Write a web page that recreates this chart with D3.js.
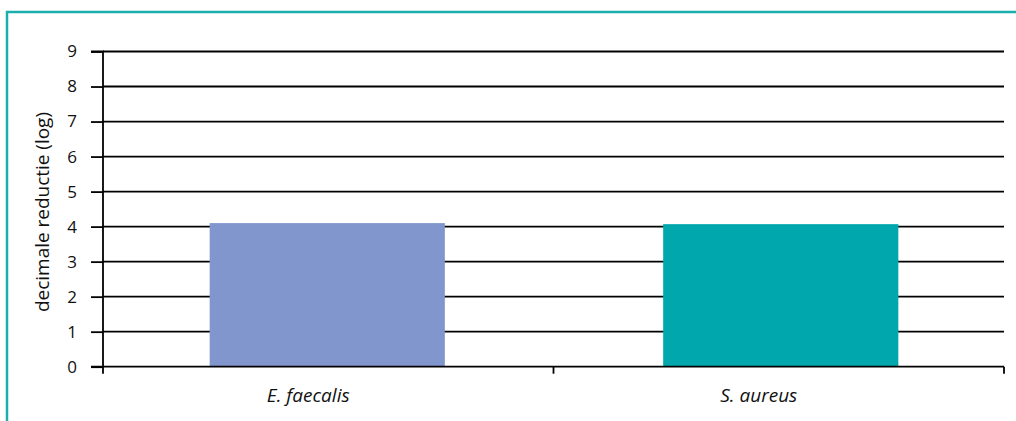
<!DOCTYPE html>
<html><head><meta charset="utf-8">
<script src="https://cdn.jsdelivr.net/npm/d3@7"></script>
<style>body{margin:0;background:#fff;} text{font-family:"Open Sans","Noto Sans",sans-serif;}</style>
</head><body><svg id="c" width="1016" height="421"></svg>
<script>
const categories = ["E. faecalis", "S. aureus"];
const values = [4.1, 4.07];
const colors = ["#8096cc", "#00a8ad"];
const yTicks = [0,1,2,3,4,5,6,7,8,9];
const yTitle = "decimale reductie (log)";

(function(){
const svg = d3.select("#c");
const pLeft = 103, pRight = 1004, pTop = 51.5, pBottom = 366.7;
const y = d3.scaleLinear().domain([0, 9]).range([pBottom, pTop]);
const x = d3.scaleBand().domain(categories).range([pLeft, pRight]).padding(0);

// frame
svg.append("path").attr("d", "M7,421 V12 H1016").attr("fill", "none")
  .attr("stroke", "#1aafad").attr("stroke-width", 2.5);

// gridlines
svg.append("g").selectAll("line").data(yTicks.filter(d => d > 0)).join("line")
  .attr("x1", pLeft).attr("x2", pRight).attr("y1", d => y(d)).attr("y2", d => y(d))
  .attr("stroke", "#000").attr("stroke-width", 1.8);

// bars
const bw = x.bandwidth() * 0.522;
svg.append("g").selectAll("rect").data(values).join("rect")
  .attr("x", (d, i) => x(categories[i]) + x.bandwidth() / 2 - bw / 2 + (i === 0 ? -1 : 2))
  .attr("width", bw)
  .attr("y", d => y(d)).attr("height", d => y(0) - y(d))
  .attr("fill", (d, i) => colors[i]);

// y axis
const yAxis = d3.axisLeft(y).tickValues(yTicks).tickSize(12).tickPadding(14).tickFormat(d3.format("d"));
const ga = svg.append("g").attr("transform", `translate(${pLeft},0)`).call(yAxis);
ga.select(".domain").attr("stroke", "#000").attr("stroke-width", 1.8).attr("d", `M-12,${pBottom}H0V${pTop}H-12`);
ga.selectAll(".tick line").attr("stroke", "#000").attr("stroke-width", 1.8);
ga.selectAll(".tick text").attr("font-size", 17).attr("fill", "#111").attr("font-family", "'Open Sans','Noto Sans',sans-serif");

// x axis
const gx = svg.append("g").attr("transform", `translate(0,${pBottom})`);
gx.append("line").attr("x1", pLeft).attr("x2", pRight).attr("y1", 0).attr("y2", 0).attr("stroke", "#000").attr("stroke-width", 1.8);
const bounds = [pLeft, x(categories[1]), pRight];
gx.selectAll("line.t").data(bounds).join("line").attr("class", "t")
  .attr("x1", d => d).attr("x2", d => d).attr("y1", 0).attr("y2", 7)
  .attr("stroke", "#000").attr("stroke-width", 1.8);
gx.selectAll("text").data(categories).join("text")
  .attr("x", d => x(d) + x.bandwidth() / 2 - 20).attr("y", 35)
  .attr("text-anchor", "middle").attr("font-size", 19).attr("font-style", "italic").attr("fill", "#111")
  .text(d => d);

// y title
svg.append("text").attr("transform", `translate(49,212) rotate(-90)`)
  .attr("text-anchor", "middle").attr("font-size", 19).attr("fill", "#111")
  .attr("textLength", 200).attr("lengthAdjust", "spacing").text(yTitle);
})();
</script></body></html>
